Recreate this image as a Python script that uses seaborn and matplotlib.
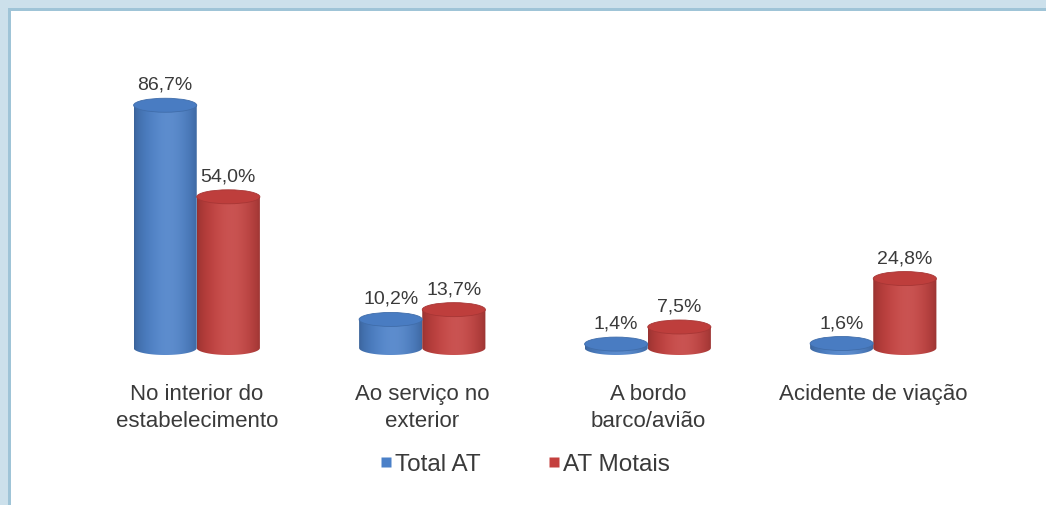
import numpy as np
import pandas as pd
import matplotlib
matplotlib.use("Agg")
import matplotlib.pyplot as plt
import seaborn as sns
from matplotlib.patches import Ellipse, PathPatch, Rectangle
from matplotlib.path import Path
from matplotlib.lines import Line2D
import matplotlib.colors as mcolors

# Data
categories = ["No interior do\nestabelecimento", "Ao serviço no\nexterior",
              "A bordo\nbarco/avião", "Acidente de viação"]
series = ["Total AT", "AT Motais"]
total_at = [86.7, 10.2, 1.4, 1.6]
at_motais = [54.0, 13.7, 7.5, 24.8]

colors = {"Total AT": "#4b80c8", "AT Motais": "#c4403e"}
text_color = "#3a3a3a"

df = pd.DataFrame({
    "categoria": categories * 2,
    "serie": [series[0]] * len(categories) + [series[1]] * len(categories),
    "valor": total_at + at_motais,
})

sns.set_theme(style="white")
plt.rcParams["font.family"] = ["Liberation Sans", "DejaVu Sans"]

W, H = 1046, 506
fig = plt.figure(figsize=(W / 100, H / 100), dpi=100)
fig.patch.set_facecolor("white")

# Axes placement in pixels: baseline at y=349, 2.8 px per percentage point
px_per_unit = 2.8
y_min, y_max = -5, 100
left_px, right_px = 84, 986
base_px = 349
bottom_px = base_px - y_min * px_per_unit
top_px = base_px - y_max * px_per_unit
ax = fig.add_axes([left_px / W, (H - bottom_px) / H,
                   (right_px - left_px) / W, (bottom_px - top_px) / H])

sns.barplot(data=df, x="categoria", y="valor", hue="serie",
            palette=colors, width=0.56, ax=ax, legend=False,
            saturation=1, errorbar=None)

ell_h = 5.0  # ellipse height in data units


def shade_row(base_hex):
    rgb = np.array(mcolors.to_rgb(base_hex))
    t = np.linspace(0, 1, 256)
    light = np.exp(-((t - 0.55) / 0.30) ** 2)
    dark = 0.74 + 0.26 * np.sin(np.pi * t) ** 0.5
    row = rgb[None, :] * dark[:, None]
    row = row + (1 - row) * (0.10 * light)[:, None]
    return np.clip(row, 0, 1)[None, :, :]


for container, name in zip(ax.containers, series):
    base = colors[name]
    img = shade_row(base)
    base_rgb = np.array(mcolors.to_rgb(base))
    top_rgb = base_rgb * 0.97
    for bar in container:
        x0, w, h = bar.get_x(), bar.get_width(), bar.get_height()
        bar.set_visible(False)
        cx = x0 + w / 2
        # cylinder body: side walls plus lower half ellipse
        theta = np.linspace(np.pi, 2 * np.pi, 60)
        arc = np.column_stack([cx + (w / 2) * np.cos(theta),
                               (ell_h / 2) * np.sin(theta)])
        verts = np.vstack([[x0, h], [x0, 0], arc, [x0 + w, h], [x0, h]])
        body = PathPatch(Path(verts), facecolor="none", edgecolor="none",
                         transform=ax.transData)
        ax.add_patch(body)
        im = ax.imshow(img, extent=[x0, x0 + w, -ell_h / 2, h],
                       aspect="auto", interpolation="bilinear", zorder=2)
        im.set_clip_path(body)
        ax.add_patch(Ellipse((cx, h), w, ell_h, facecolor=top_rgb,
                             edgecolor=base_rgb * 0.85,
                             linewidth=0.6, zorder=3, clip_on=False))
    labels = [f"{v:.1f}%".replace(".", ",") for v in container.datavalues]
    ax.bar_label(container, labels=labels, padding=9, fontsize=14,
                 color=text_color)

ax.set_xlim(-0.5, 3.5)
ax.set_ylim(y_min, y_max)
ax.set_xlabel("")
ax.set_ylabel("")
ax.set_yticks([])
ax.tick_params(axis="x", length=0, pad=15, labelsize=16, colors=text_color)
for lab in ax.get_xticklabels():
    lab.set_linespacing(1.4)
for s in ax.spines.values():
    s.set_visible(False)
ax.set_facecolor("none")

# Legend
handles = [Line2D([], [], marker="s", linestyle="none", markersize=6.5,
                  markerfacecolor=colors[s], markeredgecolor="none")
           for s in series]
fig.legend(handles, series, loc="center", bbox_to_anchor=(525 / W, 1 - 465 / H),
           ncol=2, frameon=False, fontsize=17.5, handlelength=0.5,
           handletextpad=0.1, columnspacing=2.8, labelcolor=text_color)

# Page frame: light band with a darker inner line on the top and left
light, line = "#cce0eb", "#9fc4d7"
fig.patches.extend([
    Rectangle((0, 1 - 9 / H), 1, 9 / H, transform=fig.transFigure,
              facecolor=light, edgecolor="none"),
    Rectangle((0, 0), 8 / W, 1, transform=fig.transFigure,
              facecolor=light, edgecolor="none"),
    Rectangle((8 / W, 1 - 12 / H), 1, 3 / H, transform=fig.transFigure,
              facecolor=line, edgecolor="none"),
    Rectangle((8 / W, 0), 3 / W, 1 - 9 / H, transform=fig.transFigure,
              facecolor=line, edgecolor="none"),
])

fig.savefig("out.png", dpi=100, facecolor="white")
